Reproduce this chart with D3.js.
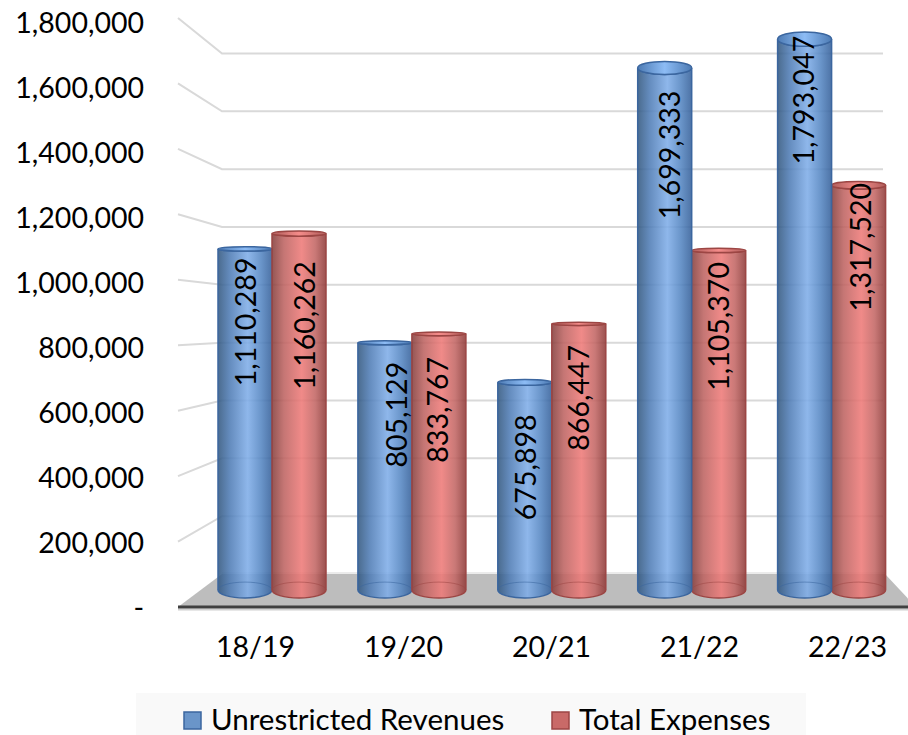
<!DOCTYPE html>
<html lang="en">
<head>
<meta charset="UTF-8">
<title>Revenues and Expenses</title>
<script src="https://cdnjs.cloudflare.com/ajax/libs/d3/7.8.5/d3.min.js"></script>
<style>
    html, body { margin: 0; padding: 0; background: #fff; }
    svg { display: block; }
    text { font-family: Lato, sans-serif; fill: #000; }
    .axis text { font-size: 28.5px; }
    .axis path, .axis line { display: none; }
</style>
</head>
<body>
<script>
    var categories = ["18/19", "19/20", "20/21", "21/22", "22/23"];
    var seriesNames = ["Unrestricted Revenues", "Total Expenses"];
    var revenues = [1110289, 805129, 675898, 1699333, 1793047];
    var expenses = [1160262, 833767, 866447, 1105370, 1317520];
    var tickValues = [0, 200000, 400000, 600000, 800000, 1000000, 1200000, 1400000, 1600000, 1800000];

    // where each data label sits: below its bar top, and sideways off the bar centre
    var revenueLabelGap = [73, 72, 85, 87, 61];
    var expenseLabelGap = [92, 76, 74, 76, 62];
    var revenueLabelShift = [0, 11, 0, 4, -2];
    var expenseLabelShift = [5, -2, -1, -1, 1];

    var w = 908;
    var h = 735;
    var maxValue = 1800000;

    var svg = d3.select("body").append("svg")
        .attr("width", w)
        .attr("height", h);

    // the chart is a fake 3d box: wall, bar plane and front edge each get a scale
    var yFront = d3.scaleLinear().domain([0, maxValue]).range([607, 18]);
    var yBack = d3.scaleLinear().domain([0, maxValue]).range([574, 53.5]);
    var yBar = d3.scaleLinear().domain([0, maxValue]).range([590, 37]);
    var yLabel = d3.scaleLinear().domain([0, maxValue]).range([608, 23]);

    var x0 = d3.scaleBand().domain(categories).range([202, 901.5]);
    var x1 = d3.scaleBand().domain(seriesNames).range([16, 124]);
    var xLabel = d3.scalePoint().domain(categories).range([255, 847]);

    // cylinder ends flatten out near eye level, about y=300
    var ryScale = d3.scaleLinear().domain([0, 260]).range([1, 7.2]);
    function endRy(y) {
        return ryScale(Math.abs(y - 300));
    }

    var defs = svg.append("defs");

    function addGradient(id, stops) {
        var g = defs.append("linearGradient").attr("id", id)
            .attr("x1", "0%").attr("x2", "100%").attr("y1", "0%").attr("y2", "0%");
        stops.forEach(function (s) {
            g.append("stop").attr("offset", s[0]).attr("stop-color", s[1]);
        });
    }

    addGradient("blueBody", [["0%", "#32577f"], ["22%", "#4f7cb5"], ["55%", "#7fade8"], ["80%", "#5586c2"], ["100%", "#35609a"]]);
    addGradient("redBody", [["0%", "#853f3d"], ["22%", "#bd6361"], ["55%", "#ee7a78"], ["80%", "#c26664"], ["100%", "#8e3a38"]]);
    addGradient("blueTop", [["0%", "#4d7bb4"], ["50%", "#8dbcf5"], ["100%", "#4d7bb4"]]);
    addGradient("redTop", [["0%", "#b05e5c"], ["50%", "#f58c8a"], ["100%", "#b05e5c"]]);

    // floor
    svg.append("polygon")
        .attr("fill", "#bdbdbd")
        .attr("points", [[178, yFront(0)], [222, yBack(0)], [885, yBack(0)], [916, yFront(0)]].join(" "));
    svg.append("line")
        .attr("x1", 222).attr("x2", 885)
        .attr("y1", yBack(0) - 1).attr("y2", yBack(0) - 1)
        .attr("stroke", "#e4e4e4").attr("stroke-width", 1.5);

    // wall gridlines
    svg.append("g").selectAll("path")
        .data(tickValues.slice(1))
        .enter()
        .append("path")
        .attr("fill", "none")
        .attr("stroke", "#d9d9d9")
        .attr("stroke-width", 2)
        .attr("d", function (d) {
            return "M178," + yFront(d) + "L222," + yBack(d) + "L883," + yBack(d);
        });

    // front edge
    svg.append("line")
        .attr("x1", 178).attr("x2", w)
        .attr("y1", yFront(0) + 2.5).attr("y2", yFront(0) + 2.5)
        .attr("stroke", "#d0d0d0").attr("stroke-width", 2);
    svg.append("line")
        .attr("x1", 178).attr("x2", w)
        .attr("y1", yFront(0)).attr("y2", yFront(0))
        .attr("stroke", "#404040").attr("stroke-width", 3);

    // one record per bar, in paint order: red on top in the first three groups, blue after that
    var bars = [];
    categories.forEach(function (c, i) {
        var rev = { cat: c, series: seriesNames[0], value: revenues[i], gap: revenueLabelGap[i], shift: revenueLabelShift[i], color: "blue" };
        var exp = { cat: c, series: seriesNames[1], value: expenses[i], gap: expenseLabelGap[i], shift: expenseLabelShift[i], color: "red" };
        if (i < 3) {
            bars.push(rev, exp);
        } else {
            bars.push(exp, rev);
        }
    });

    var edge = { blue: "#3b669f", red: "#9c4644" };

    var bar = svg.append("g").selectAll("g")
        .data(bars)
        .enter()
        .append("g")
        .attr("transform", function (d) {
            return "translate(" + (x0(d.cat) + x1(d.series)) + ",0)";
        });

    var bw = x1.bandwidth();
    var baseY = yBar(0);
    var baseRy = endRy(baseY);

    function bodyPath(d) {
        var top = yBar(d.value);
        var ry = endRy(top);
        return "M0," + top + "A" + (bw / 2) + "," + ry + " 0 0 0 " + bw + "," + top +
            "L" + bw + "," + baseY + "A" + (bw / 2) + "," + baseRy + " 0 0 1 0," + baseY + "Z";
    }

    bar.append("path")
        .attr("d", bodyPath)
        .attr("fill", function (d) { return "url(#" + d.color + "Body)"; })
        .attr("fill-opacity", 0.88)
        .attr("stroke", function (d) { return edge[d.color]; })
        .attr("stroke-width", 1.5);

    // back half of the base ring shows through the body
    bar.append("path")
        .attr("d", "M0," + baseY + "A" + (bw / 2) + "," + baseRy + " 0 0 1 " + bw + "," + baseY)
        .attr("fill", "none")
        .attr("stroke", function (d) { return edge[d.color]; })
        .attr("stroke-opacity", 0.55);

    bar.append("ellipse")
        .attr("cx", bw / 2)
        .attr("cy", function (d) { return yBar(d.value); })
        .attr("rx", bw / 2)
        .attr("ry", function (d) { return endRy(yBar(d.value)); })
        .attr("fill", function (d) { return "url(#" + d.color + "Top)"; })
        .attr("stroke", function (d) { return edge[d.color]; })
        .attr("stroke-width", 1.5);

    // data labels go on top of every bar
    svg.append("g").selectAll("text")
        .data(bars)
        .enter()
        .append("text")
        .attr("text-anchor", "middle")
        .attr("dominant-baseline", "central")
        .attr("font-size", "28.5px")
        .attr("transform", function (d) {
            var px = x0(d.cat) + x1(d.series) + bw / 2 + d.shift;
            var py = yBar(d.value) + d.gap;
            return "translate(" + px + "," + py + ") rotate(-90)";
        })
        .text(function (d) { return d3.format(",")(d.value); });

    // value axis
    var yAxis = d3.axisLeft(yLabel)
        .tickValues(tickValues)
        .tickSize(0)
        .tickPadding(0)
        .tickFormat(function (d) { return d === 0 ? "-" : d3.format(",")(d); });

    svg.append("g")
        .attr("class", "axis")
        .attr("transform", "translate(144,0)")
        .call(yAxis);

    // category axis
    var xAxis = d3.axisBottom(xLabel)
        .tickSize(0)
        .tickPadding(0);

    svg.append("g")
        .attr("class", "axis")
        .attr("transform", "translate(0,637)")
        .call(xAxis);

    // legend
    svg.append("rect")
        .attr("x", 136).attr("y", 693)
        .attr("width", 670).attr("height", 42)
        .attr("fill", "#f9f9f9");

    var legendX = d3.scaleOrdinal().domain(seriesNames).range([183, 551]);
    var legendFill = d3.scaleOrdinal().domain(seriesNames).range(["#6a95c9", "#c96a68"]);
    var legendEdge = d3.scaleOrdinal().domain(seriesNames).range(["#3b669f", "#9c4644"]);

    var legend = svg.append("g").selectAll("g")
        .data(seriesNames)
        .enter()
        .append("g")
        .attr("transform", function (d) { return "translate(" + legendX(d) + ",711)"; });

    legend.append("rect")
        .attr("x", 1).attr("y", 1)
        .attr("width", 17).attr("height", 17)
        .attr("fill", function (d) { return legendFill(d); })
        .attr("stroke", function (d) { return legendEdge(d); })
        .attr("stroke-width", 1.5);

    legend.append("text")
        .attr("x", 28)
        .attr("y", 19)
        .attr("font-size", "29.5px")
        .text(function (d) { return d; });
</script>
</body>
</html>
